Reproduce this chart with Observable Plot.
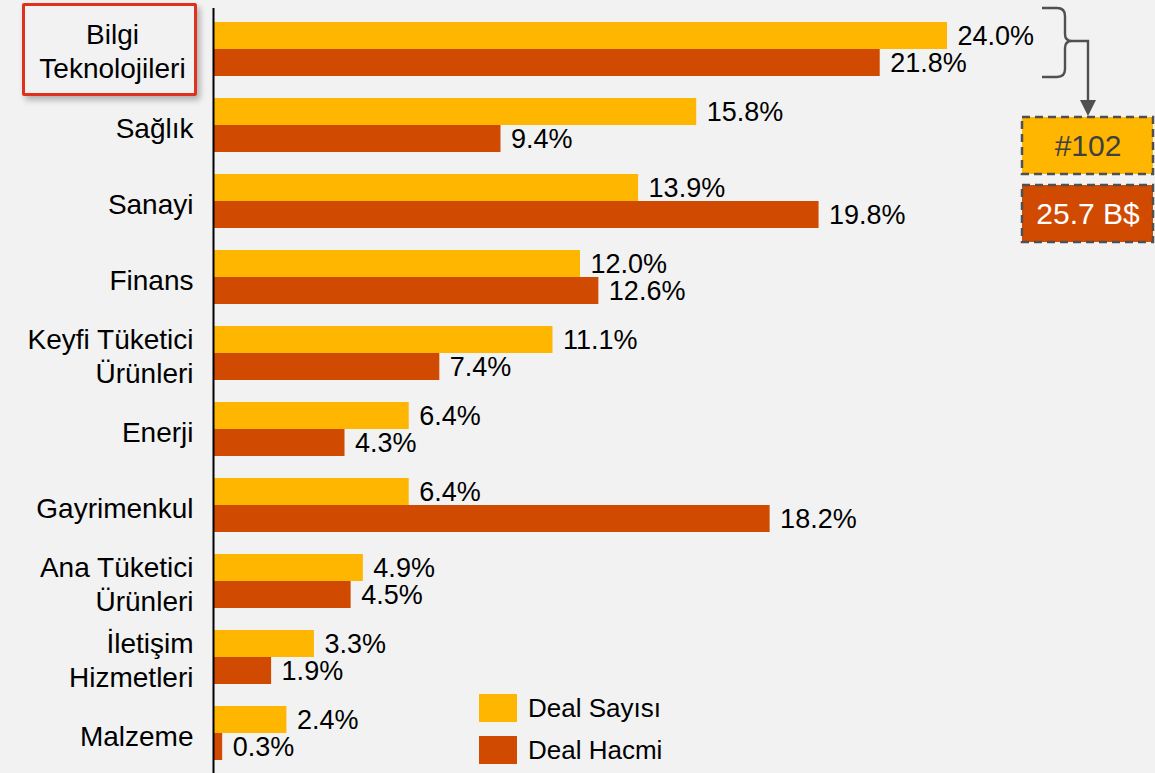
<!DOCTYPE html>
<html>
<head>
<meta charset="utf-8">
<script src="https://cdn.jsdelivr.net/npm/d3@7"></script>
<script src="https://cdn.jsdelivr.net/npm/@observablehq/plot@0.6"></script>
<style>
  html, body { margin: 0; padding: 0; background: #f2f2f2; }
  #wrap { position: relative; width: 1155px; height: 773px; overflow: hidden; background: #f2f2f2; font-family: "Liberation Sans", Arial, sans-serif; }
  #chart svg { display: block; }
  #overlay { position: absolute; left: 0; top: 0; pointer-events: none; }
  #hl { position: absolute; left: 22px; top: 3px; width: 169px; height: 87px; border: 3px solid #e0301e; border-radius: 2px; box-shadow: 3px 4px 6px rgba(0,0,0,0.28); }
</style>
</head>
<body>
<div id="wrap">
  <div id="hl"></div>
  <div id="chart"></div>
  <svg id="overlay" width="1155" height="773"></svg>
</div>
<script>
// ---- data ----
const categories = ["Bilgi Teknolojileri","Sağlık","Sanayi","Finans","Keyfi Tüketici Ürünleri","Enerji","Gayrimenkul","Ana Tüketici Ürünleri","İletişim Hizmetleri","Malzeme"];
const tickLabels = ["Bilgi\nTeknolojileri","Sağlık","Sanayi","Finans","Keyfi Tüketici\nÜrünleri","Enerji","Gayrimenkul","Ana Tüketici\nÜrünleri","İletişim\nHizmetleri","Malzeme"];
const dealSayisi = [24.0,15.8,13.9,12.0,11.1,6.4,6.4,4.9,3.3,2.4];
const dealHacmi  = [21.8,9.4,19.8,12.6,7.4,4.3,18.2,4.5,1.9,0.3];
const seriesNames = ["Deal Sayısı","Deal Hacmi"];
const seriesColors = ["#FFB600","#D04A02"];
const totalCount = "#102";
const totalVolume = "25.7 B$";

const labelOf = new Map(categories.map((c,i)=>[c,tickLabels[i]]));
const rowsA = categories.map((c,i)=>({cat:c, v:dealSayisi[i]}));
const rowsB = categories.map((c,i)=>({cat:c, v:dealHacmi[i]}));
const fmt = v => v.toFixed(1) + "%";

const half = 27;
const chart = Plot.plot({
  width: 1155,
  height: 773,
  marginLeft: 213,
  marginRight: 208,
  marginTop: 22,
  marginBottom: 8,
  style: {background: "transparent", fontFamily: "'Liberation Sans', Arial, sans-serif", fontSize: "27px", color: "black", overflow: "visible"},
  x: {domain: [0, 24], axis: null},
  y: {domain: categories, paddingInner: 0.295, paddingOuter: 0, align: 0, label: null},
  marks: [
    Plot.barX(rowsA, {y: "cat", x: "v", fill: seriesColors[0], insetBottom: half}),
    Plot.barX(rowsB, {y: "cat", x: "v", fill: seriesColors[1], insetTop: half}),
    Plot.text(rowsA, {y: "cat", x: "v", text: d => fmt(d.v), dx: 10, dy: -13.5, textAnchor: "start", fontSize: 27, fill: "black"}),
    Plot.text(rowsB, {y: "cat", x: "v", text: d => fmt(d.v), dx: 10, dy: 13.5, textAnchor: "start", fontSize: 27, fill: "black"}),
    Plot.axisY({ticks: categories.slice(1), label: null, tickSize: 0, tickPadding: 20, tickFormat: d => labelOf.get(d), fontSize: 28, lineHeight: 1.2, fill: "black", dy: 2}),
    Plot.text([categories[0]], {y: d => d, frameAnchor: "left", dx: -101, dy: 1, textAnchor: "middle", text: d => labelOf.get(d), fontSize: 28, lineHeight: 1.2, fill: "black"}),
    Plot.ruleX([0], {stroke: "black", strokeWidth: 2, insetTop: -14, insetBottom: -8})
  ]
});
document.getElementById("chart").appendChild(chart);

// ---- annotations & legend ----
const ov = d3.select("#overlay");
const gray = "#505050";
ov.append("path")
  .attr("d", "M1042,8 H1057 Q1065,8 1065,16 V34 Q1065,41 1072,41 Q1065,41 1065,48 V69 Q1065,77 1057,77 H1042")
  .attr("fill", "none").attr("stroke", gray).attr("stroke-width", 2.4);
ov.append("path").attr("d", "M1072,41 H1088 V101").attr("fill", "none").attr("stroke", gray).attr("stroke-width", 2.4);
ov.append("path").attr("d", "M1080,100 L1096,100 L1088,116 Z").attr("fill", gray);

const boxes = [{y:117, fill: seriesColors[0], text: totalCount, color: "#404040"},
               {y:185, fill: seriesColors[1], text: totalVolume, color: "#ffffff"}];
for (const b of boxes) {
  ov.append("rect").attr("x", 1022).attr("y", b.y).attr("width", 131).attr("height", 57)
    .attr("fill", b.fill).attr("stroke", gray).attr("stroke-width", 2.5).attr("stroke-dasharray", "8,5");
  ov.append("text").attr("x", 1088).attr("y", b.y + 28.5).attr("text-anchor", "middle").attr("dominant-baseline", "central")
    .attr("font-family", "'Liberation Sans', Arial, sans-serif").attr("font-size", 30).attr("fill", b.color).text(b.text);
}

seriesNames.forEach((name, i) => {
  const y = 694 + i * 42;
  ov.append("rect").attr("x", 479).attr("y", y).attr("width", 38).attr("height", 28).attr("fill", seriesColors[i]);
  ov.append("text").attr("x", 528).attr("y", y + 14).attr("dominant-baseline", "central")
    .attr("font-family", "'Liberation Sans', Arial, sans-serif").attr("font-size", 26).attr("fill", "black").text(name);
});
</script>
</body>
</html>
